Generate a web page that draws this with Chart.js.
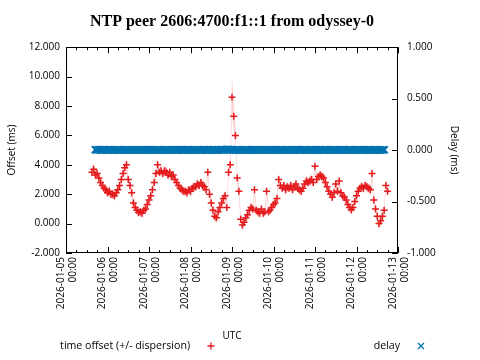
<!DOCTYPE html>
<html>
<head>
<meta charset="utf-8">
<style>
	html, body { margin: 0; padding: 0; background: #fff; }
</style>
<script src="https://cdn.jsdelivr.net/npm/chart.js@4.4.1/dist/chart.umd.min.js"></script>
</head>
<body>
<canvas id="ntpChart" width="480" height="360"></canvas>
<script>
// Tick labels for the x axis (one per day, midnight UTC).
const dayLabels = [
	'2026-01-05', '2026-01-06', '2026-01-07', '2026-01-08', '2026-01-09',
	'2026-01-10', '2026-01-11', '2026-01-12', '2026-01-13',
];

// Offset samples are hourly, starting 2026-01-05 15:00 UTC.
const offsetStartHour = 15;

// Time offset (ms), one value per hour.
const offsetMs = [
	3.5, 3.7, 3.3, 3.4, 3.1, 2.8, 2.6, 2.4, 2.3, 2.1, 2.2, 2.0,
	2.0, 1.9, 2.1, 2.3, 2.6, 3.0, 3.4, 3.8, 4.0, 3.0, 2.6, 2.1,
	1.4, 1.1, 0.9, 0.75, 0.8, 0.7, 0.9, 1.0, 1.3, 1.6, 1.9, 2.3,
	2.8, 3.4, 4.0, 3.5, 3.6, 3.4, 3.6, 3.5, 3.3, 3.5, 3.2, 3.3,
	3.0, 2.8, 2.6, 2.4, 2.3, 2.2, 2.2, 2.1, 2.3, 2.2, 2.4, 2.5,
	2.5, 2.7, 2.6, 2.8, 2.6, 2.5, 2.3, 3.5, 2.0, 1.4, 0.9, 0.5,
	0.4, 0.8, 1.1, 1.4, 1.7, 1.9, 1.1, 3.5, 4.0, 8.6, 7.3, 6.0,
	3.1, 2.2, 0.3, -0.1, 0.1, 0.4, 0.6, 0.9, 1.1, 1.0, 2.3, 0.9,
	0.8, 0.7, 1.0, 0.7, 0.8, 2.2, 0.8, 0.9, 1.1, 1.3, 1.4, 1.7,
	3.0, 2.6, 2.4, 2.6, 2.3, 2.5, 2.4, 2.6, 2.3, 2.5, 2.7, 2.4,
	2.3, 2.2, 2.4, 2.7, 2.9, 2.8, 2.9, 3.0, 2.8, 3.9, 3.0, 3.2,
	3.3, 3.2, 3.1, 2.8, 2.5, 2.2, 2.0, 1.8, 2.1, 2.7, 2.2, 2.9,
	2.1, 1.9, 1.8, 1.6, 1.3, 1.1, 0.95, 1.1, 1.5, 1.9, 2.2, 2.4,
	2.5, 2.4, 2.6, 2.5, 2.4, 2.3, 3.4, 1.6, 1.0, 0.5, 0.0, 0.2,
	0.5, 0.9, 2.6, 2.2,
];

// Dispersion (ms) for each offset sample, drawn as the +/- band.
const dispersionMs = [
	0.35, 0.4, 0.35, 0.3, 0.35, 0.3, 0.3, 0.35, 0.3, 0.3, 0.35, 0.3,
	0.3, 0.35, 0.3, 0.3, 0.35, 0.3, 0.35, 0.4, 0.4, 0.35, 0.3, 0.35,
	0.35, 0.3, 0.35, 0.3, 0.3, 0.35, 0.3, 0.3, 0.35, 0.3, 0.3, 0.35,
	0.35, 0.4, 0.35, 0.3, 0.35, 0.3, 0.3, 0.35, 0.3, 0.3, 0.35, 0.3,
	0.3, 0.35, 0.3, 0.3, 0.35, 0.3, 0.3, 0.35, 0.3, 0.3, 0.35, 0.3,
	0.3, 0.35, 0.3, 0.3, 0.35, 0.3, 0.35, 0.4, 0.4, 0.45, 0.4, 0.35,
	0.35, 0.3, 0.35, 0.3, 0.35, 0.35, 0.4, 0.5, 0.6, 1.3, 0.9, 0.6,
	0.5, 0.45, 0.4, 0.4, 0.35, 0.3, 0.35, 0.3, 0.3, 0.35, 0.35, 0.3,
	0.3, 0.35, 0.3, 0.3, 0.35, 0.35, 0.3, 0.3, 0.35, 0.3, 0.3, 0.35,
	0.4, 0.35, 0.3, 0.3, 0.35, 0.3, 0.3, 0.35, 0.3, 0.3, 0.35, 0.3,
	0.3, 0.35, 0.3, 0.3, 0.35, 0.3, 0.3, 0.35, 0.3, 0.4, 0.35, 0.3,
	0.3, 0.35, 0.3, 0.3, 0.35, 0.3, 0.3, 0.35, 0.3, 0.35, 0.3, 0.35,
	0.3, 0.35, 0.3, 0.3, 0.35, 0.3, 0.35, 0.3, 0.3, 0.35, 0.3, 0.3,
	0.35, 0.3, 0.3, 0.35, 0.3, 0.35, 0.4, 0.35, 0.3, 0.35, 0.4, 0.35,
	0.35, 0.35, 0.4, 0.35,
];

// Delay (ms), hourly, first at 2026-01-05 17:00 UTC.
const delayStartHour = 17;
const delayMs = [
	0.004, 0.002, 0.003, 0.001, 0.002, 0.003, 0.002, 0.001, 0.003, 0.002, 0.002, 0.001,
	0.002, 0.003, 0.002, 0.002, 0.001, 0.002, 0.003, 0.002, 0.001, 0.002, 0.002, 0.003,
	0.002, 0.001, 0.002, 0.003, 0.002, 0.002, 0.001, 0.002, 0.003, 0.002, 0.002, 0.001,
	0.003, 0.002, 0.002, 0.001, 0.002, 0.003, 0.002, 0.002, 0.001, 0.002, 0.003, 0.002,
	0.002, 0.003, 0.002, 0.001, 0.002, 0.002, 0.003, 0.002, 0.001, 0.002, 0.002, 0.003,
	0.002, 0.001, 0.002, 0.003, 0.002, 0.002, 0.001, 0.002, 0.003, 0.002, 0.002, 0.001,
	0.002, 0.003, 0.002, 0.004, 0.006, 0.005, 0.003, 0.002, 0.001, 0.002, 0.003, 0.002,
	0.002, 0.001, 0.002, 0.003, 0.002, 0.002, 0.001, 0.002, 0.003, 0.002, 0.002, 0.001,
	0.002, 0.003, 0.002, 0.002, 0.001, 0.002, 0.003, 0.002, 0.002, 0.001, 0.002, 0.003,
	0.002, 0.001, 0.002, 0.003, 0.002, 0.002, 0.001, 0.002, 0.003, 0.002, 0.002, 0.001,
	0.003, 0.002, 0.002, 0.001, 0.002, 0.003, 0.002, 0.002, 0.001, 0.002, 0.003, 0.002,
	0.002, 0.003, 0.002, 0.001, 0.002, 0.002, 0.003, 0.002, 0.001, 0.002, 0.002, 0.003,
	0.002, 0.001, 0.002, 0.003, 0.002, 0.002, 0.001, 0.002, 0.003, 0.002, 0.002, 0.001,
	0.002, 0.003, 0.002, 0.002, 0.001, 0.002, 0.003, 0.002, 0.002, 0.001, 0.002, 0.003,
];

const offsetColor = '#e41a1c';
const delayColor = '#0072b2';
const labelFont = '"Open Sans", "Noto Sans", sans-serif';

Chart.defaults.font.family = labelFont;
Chart.defaults.font.size = 10;
Chart.defaults.color = '#000';

// x values are days since 2026-01-05 00:00 UTC
const hourToDay = ( h ) => h / 24;

const offsetPoints = offsetMs.map( ( v, i ) => ( {
	x: hourToDay( offsetStartHour + i ),
	y: v,
} ) );
const bandLow = offsetMs.map( ( v, i ) => ( {
	x: hourToDay( offsetStartHour + i ),
	y: v - dispersionMs[ i ],
} ) );
const bandHigh = offsetMs.map( ( v, i ) => ( {
	x: hourToDay( offsetStartHour + i ),
	y: v + dispersionMs[ i ],
} ) );
const delayPoints = delayMs.map( ( v, i ) => ( {
	x: hourToDay( delayStartHour + i ),
	y: v,
} ) );

// gnuplot-style frame with inward ticks (mirrored x ticks on top)
const frameTicks = {
	id: 'frameTicks',
	afterDatasetsDraw( chart ) {
		const { ctx, chartArea: a, scales } = chart;
		ctx.save();
		ctx.strokeStyle = '#000';
		ctx.lineWidth = 1;
		ctx.beginPath();
		scales.y.ticks.forEach( ( t ) => {
			const py = Math.round( scales.y.getPixelForValue( t.value ) ) + 0.5;
			ctx.moveTo( a.left, py );
			ctx.lineTo( a.left + 6, py );
		} );
		scales.y1.ticks.forEach( ( t ) => {
			const py = Math.round( scales.y1.getPixelForValue( t.value ) ) + 0.5;
			ctx.moveTo( a.right, py );
			ctx.lineTo( a.right - 6, py );
		} );
		for ( let q = 0; q <= ( dayLabels.length - 1 ) * 4; q++ ) {
			const px = Math.round( scales.x.getPixelForValue( q / 4 ) ) + 0.5;
			const len = q % 4 === 0 ? 6 : 3;
			ctx.moveTo( px, a.bottom );
			ctx.lineTo( px, a.bottom - len );
			ctx.moveTo( px, a.top );
			ctx.lineTo( px, a.top + len );
		}
		ctx.stroke();
		ctx.strokeRect(
			Math.round( a.left ) + 0.5,
			Math.round( a.top ) + 0.5,
			Math.round( a.width ) - 1,
			Math.round( a.height ) - 1
		);
		ctx.restore();
	},
};

// Legend in gnuplot layout: text first, then the marker sample
const keyLegend = {
	id: 'keyLegend',
	afterDraw( chart ) {
		const { ctx } = chart;
		const y = 346;
		const items = [
			{ label: chart.data.datasets[ 2 ].label, mx: 211, style: 'plus', color: offsetColor },
			{ label: chart.data.datasets[ 3 ].label, mx: 421, style: 'x', color: delayColor },
		];
		ctx.save();
		ctx.font = '10.6px ' + labelFont;
		ctx.fillStyle = '#000';
		ctx.textAlign = 'right';
		ctx.textBaseline = 'middle';
		items.forEach( ( it ) => {
			ctx.fillText( it.label, it.mx - 21, y );
			ctx.strokeStyle = it.color;
			ctx.lineWidth = 1.3;
			ctx.beginPath();
			if ( it.style === 'plus' ) {
				ctx.moveTo( it.mx - 3.5, y );
				ctx.lineTo( it.mx + 3.5, y );
				ctx.moveTo( it.mx, y - 3.5 );
				ctx.lineTo( it.mx, y + 3.5 );
			} else {
				ctx.moveTo( it.mx - 3, y - 3 );
				ctx.lineTo( it.mx + 3, y + 3 );
				ctx.moveTo( it.mx - 3, y + 3 );
				ctx.lineTo( it.mx + 3, y - 3 );
			}
			ctx.stroke();
		} );
		ctx.restore();
	},
};

new Chart( document.getElementById( 'ntpChart' ).getContext( '2d' ), {
	type: 'line',
	data: {
		datasets: [
			{
				label: 'dispersion low',
				data: bandLow,
				yAxisID: 'y',
				borderWidth: 0,
				pointRadius: 0,
				fill: false,
				order: 3,
			},
			{
				label: 'dispersion high',
				data: bandHigh,
				yAxisID: 'y',
				borderWidth: 0,
				pointRadius: 0,
				fill: '-1',
				backgroundColor: 'rgba(228, 26, 28, 0.2)',
				order: 3,
			},
			{
				label: 'time offset (+/- dispersion)',
				data: offsetPoints,
				yAxisID: 'y',
				showLine: false,
				pointStyle: 'cross',
				pointRadius: 3.5,
				pointBorderWidth: 1.5,
				pointBorderColor: offsetColor,
				pointBackgroundColor: offsetColor,
				order: 1,
			},
			{
				label: 'delay',
				data: delayPoints,
				yAxisID: 'y1',
				showLine: false,
				pointStyle: 'crossRot',
				pointRadius: 5,
				pointBorderWidth: 2,
				pointBorderColor: delayColor,
				pointBackgroundColor: delayColor,
				order: 0,
			},
		],
	},
	options: {
		responsive: false,
		animation: false,
		events: [],
		layout: {
			padding: { left: 0, right: 16, top: 0, bottom: 18 },
		},
		plugins: {
			legend: { display: false },
			tooltip: { enabled: false },
			title: {
				display: true,
				text: 'NTP peer 2606:4700:f1::1 from odyssey-0',
				color: '#000',
				font: {
					family: '"Liberation Serif", serif',
					size: 16,
					weight: 'bold',
				},
				padding: { top: 12, bottom: 16 },
			},
		},
		scales: {
			x: {
				type: 'linear',
				min: 0,
				max: dayLabels.length - 1,
				grid: { display: false, drawTicks: false },
				border: { display: false },
				ticks: {
					stepSize: 1,
					minRotation: 90,
					maxRotation: 90,
					padding: 4,
					labelOffset: -5,
					autoSkip: false,
					callback: ( v ) => [ dayLabels[ v ], '00:00' ],
				},
				title: {
					display: true,
					text: 'UTC',
					padding: { top: 0, bottom: 0 },
				},
				afterFit: ( scale ) => {
					scale.height = 89;
				},
			},
			y: {
				position: 'left',
				min: -2,
				max: 12,
				grid: { display: false, drawTicks: false },
				border: { display: false },
				ticks: {
					stepSize: 2,
					padding: 6,
					callback: ( v ) => v.toFixed( 3 ),
				},
				title: {
					display: true,
					text: 'Offset (ms)',
					padding: { top: 6, bottom: 0 },
				},
				afterFit: ( scale ) => {
					scale.width = 66;
				},
			},
			y1: {
				position: 'right',
				min: -1,
				max: 1,
				grid: { display: false, drawTicks: false },
				border: { display: false },
				ticks: {
					stepSize: 0.5,
					padding: 9,
					callback: ( v ) => v.toFixed( 3 ),
				},
				title: {
					display: true,
					text: 'Delay (ms)',
					padding: { top: 4, bottom: 0 },
				},
				afterFit: ( scale ) => {
					scale.width = 66;
				},
			},
		},
	},
	plugins: [ frameTicks, keyLegend ],
} );
</script>
</body>
</html>
